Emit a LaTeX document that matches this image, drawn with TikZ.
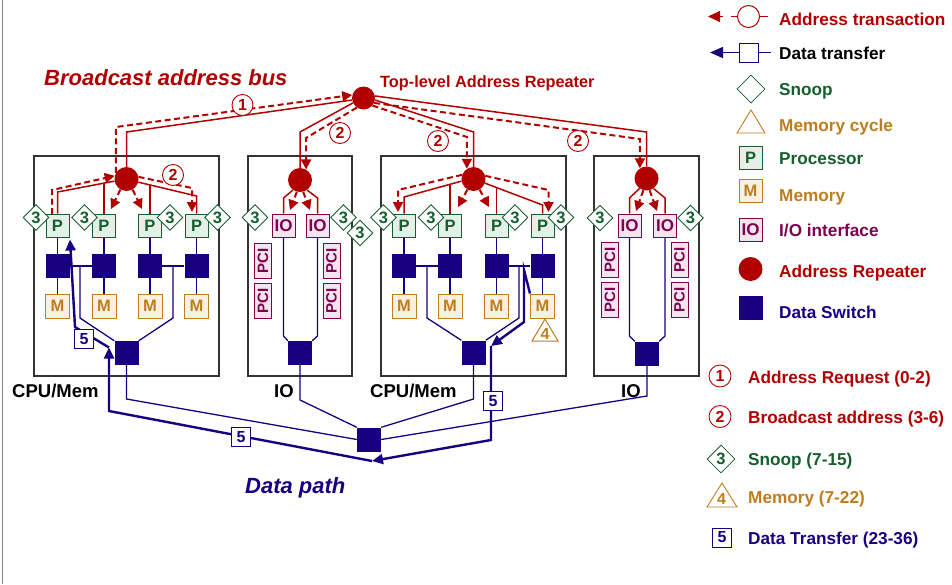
\documentclass[tikz,border=0pt]{standalone}
\usepackage{fontspec}
\setmainfont{Liberation Sans}
\usetikzlibrary{arrows.meta,shapes.geometric}
\definecolor{addr}{RGB}{176,0,0}
\definecolor{dnavy}{RGB}{24,0,128}
\definecolor{sgreen}{RGB}{22,94,46}
\definecolor{morange}{RGB}{190,125,30}
\definecolor{iopurp}{RGB}{128,0,80}
\definecolor{pfill}{RGB}{230,238,232}
\definecolor{mfill}{RGB}{250,240,226}
\definecolor{iofill}{RGB}{244,228,238}
\newcommand\fsz[1]{\fontsize{#1}{#1}\selectfont}

\begin{document}
\begin{tikzpicture}[x=1pt,y=-1pt,
  every node/.style={inner sep=0pt,font=\bfseries},
  board/.style={draw=black!80,line width=1.3pt,minimum width=#1,minimum height=220pt},
  proc/.style={draw=sgreen,fill=pfill,line width=1pt,minimum size=23pt,text=sgreen,font=\bfseries\fsz{16.5}},
  mem/.style={draw=morange,fill=mfill,line width=1pt,minimum size=24pt,text=morange,font=\bfseries\fsz{16.5}},
  iobox/.style={draw=iopurp,fill=iofill,line width=1pt,minimum size=23pt,text=iopurp,font=\bfseries\fsz{17}},
  pcibox/.style={draw=iopurp,fill=iofill,line width=1pt,minimum width=35pt,minimum height=17pt,rotate=90,text=iopurp,font=\bfseries\fsz{15}},
  snoopd/.style={diamond,aspect=1,draw=sgreen,fill=white,line width=0.9pt,minimum size=26pt,text=sgreen,font=\bfseries\fsz{16.5}},
  rep/.style={circle,fill=addr,minimum size=24pt},
  dsw/.style={fill=dnavy,minimum size=24pt},
  numc/.style={circle,draw=addr,fill=white,line width=0.9pt,minimum size=21pt,text=addr,font=\bfseries\fsz{16}},
  fivebox/.style={draw=dnavy,fill=white,line width=1pt,minimum size=19pt,text=dnavy,font=\bfseries\fsz{16}},
  asolid/.style={draw=addr,line width=1.5pt},
  adash/.style={draw=addr,line width=2pt,dash pattern=on 6pt off 3.5pt},
  atip/.style={-{Triangle[length=10pt,width=10pt]}},
  dthin/.style={draw=dnavy,line width=1.3pt},
  dthick/.style={draw=dnavy,line width=2.4pt},
  dtip/.style={-{Triangle[length=11pt,width=10pt]}},
  boardlab/.style={anchor=base west,font=\bfseries\fsz{18.5}},
  legtxt/.style={anchor=base west,font=\bfseries\fsz{17.2}},
]
\useasboundingbox (0,0) rectangle (952,584);
\draw[black!50,line width=1pt] (2,0) -- (2,584);

% ---------- boards ----------
\node[board=185pt] (b1) at (126.5,266) {};
\node[board=104pt] (b2) at (300,266) {};
\node[board=185pt] (b3) at (473.5,266) {};
\node[board=105pt] (b4) at (646.5,266) {};
\node[boardlab] (l1) at (12,397) {CPU/Mem};
\node[boardlab] (l2) at (274,397) {IO};
\node[boardlab] (l3) at (370,397) {CPU/Mem};
\node[boardlab] (l4) at (621,397) {IO};

% ---------- CPU/Mem boards ----------
\foreach \i/\xx in {1/57.5,2/104,3/150,4/196.5}{
  \node[proc] (p1\i) at (\xx,225.5) {P};
  \node[dsw]  (s1\i) at (\xx,266) {};
  \node[mem]  (m1\i) at (\xx,306) {M};
}
\foreach \i/\xx in {1/404,2/450,3/496.5,4/542.5}{
  \node[proc] (p3\i) at (\xx,225.5) {P};
  \node[dsw]  (s3\i) at (\xx,266) {};
  \node[mem]  (m3\i) at (\xx,306) {M};
}
\node[dsw] (bs1) at (126.5,353) {};
\node[dsw] (bs3) at (473.5,352.5) {};

% ---------- IO boards ----------
\node[iobox] (io21) at (283.5,225.5) {IO};
\node[iobox] (io22) at (317.5,225.5) {IO};
\node[iobox] (io41) at (629.5,225.5) {IO};
\node[iobox] (io42) at (665,225.5) {IO};
\node[pcibox] (pci21) at (263,260.5) {PCI};
\node[pcibox] (pci22) at (263,300.5) {PCI};
\node[pcibox] (pci23) at (331.5,260.5) {PCI};
\node[pcibox] (pci24) at (331.5,300.5) {PCI};
\node[pcibox] (pci41) at (610,260) {PCI};
\node[pcibox] (pci42) at (610,300) {PCI};
\node[pcibox] (pci43) at (679.5,260) {PCI};
\node[pcibox] (pci44) at (679.5,300) {PCI};
\node[dsw] (bs2) at (300,353) {};
\node[dsw] (bs4) at (647,353.5) {};
\node[dsw] (gs) at (369,439.5) {};

% ---------- address repeaters ----------
\node[rep,minimum size=23pt] (tr) at (363.5,98) {};
\node[rep] (r1) at (126.5,179) {};
\node[rep] (r2) at (300,180) {};
\node[rep] (r3) at (473.5,179) {};
\node[rep] (r4) at (646.5,178.5) {};

% ---------- local data wiring ----------
\foreach \i in {1,...,4}{
  \draw[dthin] (p1\i) -- (s1\i);
  \draw[dthin] (s1\i) -- (m1\i);
  \draw[dthin] (p3\i) -- (s3\i);
  \draw[dthin] (s3\i) -- (m3\i);
}
\draw[dthin] (s11) -- (s12);
\draw[dthin] (s13) -- (s14);
\draw[dthin] (s31) -- (s32);
\draw[dthin] (s33) -- (s34);
\coordinate (j1a) at (80,266);
\coordinate (j1b) at (173,266);
\coordinate (j3a) at (427,266);
\coordinate (j3b) at (519,266);
\draw[dthin] (j1a) -- (80,318) -- (bs1.north west);
\draw[dthin] (j1b) -- (173,318) -- (bs1.north east);
\draw[dthin] (j3a) -- (427,318) -- (bs3.north west);
\draw[dthin] (j3b) -- (519,318) -- (bs3.north east);
\draw[dthin] (io21) -- (283.5,336) -- (bs2.north west);
\draw[dthin] (io22) -- (317.5,336) -- (bs2.north east);
\draw[dthin] (io41) -- (629.5,336) -- (bs4.north west);
\draw[dthin] (io42) -- (665,336) -- (bs4.north east);

% ---------- global data path ----------
\draw[dthin] (bs1) -- (126.5,399) -- (gs.west);
\draw[dthin] (bs2) -- (300,400) -- (gs.north west);
\draw[dthin] (bs3) -- (473.5,399) -- (gs.north east);
\draw[dthin] (bs4) -- (647,396) -- (gs.east);

% ---------- data transfer route ----------
\coordinate (t1) at (524,270);
\coordinate (t2) at (524,322);
\coordinate (t3) at (491,346);
\coordinate (t4) at (491,440);
\coordinate (t5) at (372,461);
\coordinate (t6) at (109,411);
\coordinate (t7) at (109,347.5);
\coordinate (t8) at (75,327);
\coordinate (t9) at (70,239.5);
\draw[dthick,dtip] (m34.north west) -- (t1) -- (t2) -- (t3);
\draw[dthick,dtip] (t3) -- (t4) -- (t5);
\draw[dthick,dtip] (t5) -- (t6) -- (t7);
\draw[dthick,dtip] (t7) -- (t8) -- (t9);
\node[fivebox] (f1) at (84,339) {5};
\node[fivebox] (f2) at (241,437) {5};
\node[fivebox] (f3) at (493,401) {5};

% memory cycle marker
\draw[morange,line width=1pt,fill=white] (532,341) -- (545,319) -- (558,341) -- cycle;
\node[text=morange,font=\bfseries\fsz{16}] (n4) at (545,333.5) {4};

% ---------- address bus: top level ----------
\draw[asolid] (r1.north) -- (126.5,132) -- (tr.190);
\draw[adash,atip] (r1.150) -- (116,127) -- (tr.165);
\draw[asolid] (tr.205) -- (300,132) -- (r2.north);
\draw[adash,atip] (tr.235) -- (306,138) -- (r2.60);
\draw[asolid] (tr.350) -- (473.5,132) -- (r3.north);
\draw[adash,atip] (tr.320) -- (467,137) -- (r3.123);
\draw[asolid] (tr.10) -- (646.5,132) -- (r4.north);
\draw[adash,atip] (tr.335) -- (640,139) -- (r4.123);

% ---------- address bus: board 1 ----------
\coordinate (q1) at (52,214);
\draw[asolid] (r1.190) -- (57.5,192) -- (p11.north);
\draw[asolid] (104,183) -- (p12.north);
\draw[asolid] (r1.345) -- (196.5,196) -- (p14.north);
\draw[asolid] (150,185) -- (p13.north);
\draw[adash,atip] (q1) -- (52,190) -- (r1.165);
\draw[adash,atip] (r1.10) -- (192,188) -- (192,212);
\draw[adash,atip] (r1.240) -- (111,209);
\draw[adash,atip] (r1.300) -- (142,209);

% ---------- address bus: board 3 ----------
\draw[asolid] (r3.190) -- (404,197) -- (p31.north);
\draw[asolid] (450,184.3) -- (p32.north);
\draw[asolid] (r3.340) -- (542.5,205) -- (p34.north);
\draw[asolid] (496.5,187.5) -- (p33.north);
\draw[adash,atip] (r3.160) -- (398,190) -- (398,212);
\draw[adash,atip] (r3.15) -- (548.5,190) -- (548.5,212);
\draw[adash,atip] (r3.240) -- (458,207);
\draw[adash,atip] (r3.300) -- (489,207);

% ---------- address bus: IO boards ----------
\draw[asolid] (r2.235) -- (283.5,198) -- (io21.north);
\draw[asolid] (r2.305) -- (317.5,198) -- (io22.north);
\draw[adash,atip] (r2.255) -- (290,210);
\draw[adash,atip] (r2.285) -- (310,210);
\draw[asolid] (r4.235) -- (629.5,198) -- (io41.north);
\draw[asolid] (r4.305) -- (665,198) -- (io42.north);
\draw[adash,atip] (r4.255) -- (636,211);
\draw[adash,atip] (r4.285) -- (657,211);

% ---------- step markers ----------
\node[numc] (c1) at (242.5,105) {1};
\node[numc] (c2a) at (173,175) {2};
\node[numc] (c2b) at (340,133) {2};
\node[numc] (c2c) at (438,141) {2};
\node[numc] (c2d) at (578,141) {2};

% snoop diamonds
\node[snoopd] (d11) at (36,217.5) {3};
\node[snoopd] (d12) at (84.5,217.5) {3};
\node[snoopd] (d13) at (170,217.5) {3};
\node[snoopd] (d14) at (217.5,217.5) {3};
\node[snoopd] (d21) at (255,217.5) {3};
\node[snoopd] (d22) at (343.5,217.5) {3};
\node[snoopd] (d23) at (360,233) {3};
\node[snoopd] (d31) at (383.5,217.5) {3};
\node[snoopd] (d32) at (431,217.5) {3};
\node[snoopd] (d33) at (515,217.5) {3};
\node[snoopd] (d34) at (561,217.5) {3};
\node[snoopd] (d41) at (600,218) {3};
\node[snoopd] (d42) at (690.5,218) {3};

% ---------- titles ----------
\node[anchor=base west,text=addr,font=\bfseries\itshape\fsz{22}] (ttl1) at (44,85) {Broadcast address bus};
\node[anchor=base west,text=addr,font=\bfseries\fsz{16.3}] (ttl2) at (380,87) {Top-level Address Repeater};
\node[anchor=base west,text=dnavy,font=\bfseries\itshape\fsz{22}] (ttl3) at (245,493) {Data path};

% ---------- legend: symbols ----------
\node[circle,draw=addr,line width=1pt,minimum size=22pt] (lac) at (748.5,16.5) {};
\draw[addr,line width=1pt] (lac.east) -- (768,16.5);
\draw[addr,line width=1.2pt,dash pattern=on 6pt off 8pt,-{Triangle[length=12pt,width=11pt]}] (lac.west) -- (708,16.5);
\node[draw=dnavy,fill=white,line width=1pt,minimum size=19pt] (ldc) at (749,52.5) {};
\draw[dnavy,line width=1.3pt] (ldc.east) -- (771,52.5);
\draw[dnavy,line width=1.3pt,-{Triangle[length=13pt,width=11pt]}] (ldc.west) -- (710,52.5);
\node[snoopd,minimum size=28pt,line width=0.8pt] (lsn) at (751,89) {};
\draw[morange,line width=0.9pt] (737,133) -- (751,110) -- (765,133) -- cycle;
\node[proc] (lp) at (750.5,157.5) {P};
\node[mem,minimum size=23pt] (lm) at (750.5,191) {M};
\node[iobox] (lio) at (750.5,229.5) {IO};
\node[rep] (lrep) at (750.5,269) {};
\node[dsw] (lsw) at (751,308) {};

\node[legtxt,text=addr] (lt1) at (779,25) {Address transaction};
\node[legtxt,text=black] (lt2) at (779,59) {Data transfer};
\node[legtxt,text=sgreen] (lt3) at (779,95) {Snoop};
\node[legtxt,text=morange] (lt4) at (779,131.5) {Memory cycle};
\node[legtxt,text=sgreen] (lt5) at (779,164) {Processor};
\node[legtxt,text=morange] (lt6) at (779,201.5) {Memory};
\node[legtxt,text=iopurp] (lt7) at (779,236) {I/O interface};
\node[legtxt,text=addr] (lt8) at (779,277.5) {Address Repeater};
\node[legtxt,text=dnavy] (lt9) at (779,318) {Data Switch};

% ---------- legend: steps ----------
\node[numc,minimum size=22pt,fill=none] (ls1) at (720,376) {1};
\node[numc,minimum size=22pt,fill=none] (ls2) at (720,416.5) {2};
\node[snoopd,minimum size=28pt,line width=0.8pt] (ls3) at (721,459) {3};
\draw[morange,line width=0.9pt] (707,507) -- (722,483) -- (737,507) -- cycle;
\node[text=morange,font=\bfseries\fsz{16}] (ls4) at (721.5,499) {4};
\node[fivebox] (ls5) at (722,537.5) {5};

\node[legtxt,text=addr] (lu1) at (748,383.5) {Address Request (0-2)};
\node[legtxt,text=addr] (lu2) at (748,423) {Broadcast address (3-6)};
\node[legtxt,text=sgreen] (lu3) at (748,465) {Snoop (7-15)};
\node[legtxt,text=morange] (lu4) at (748,503.5) {Memory (7-22)};
\node[legtxt,text=dnavy] (lu5) at (748,544) {Data Transfer (23-36)};
\end{tikzpicture}
\end{document}
